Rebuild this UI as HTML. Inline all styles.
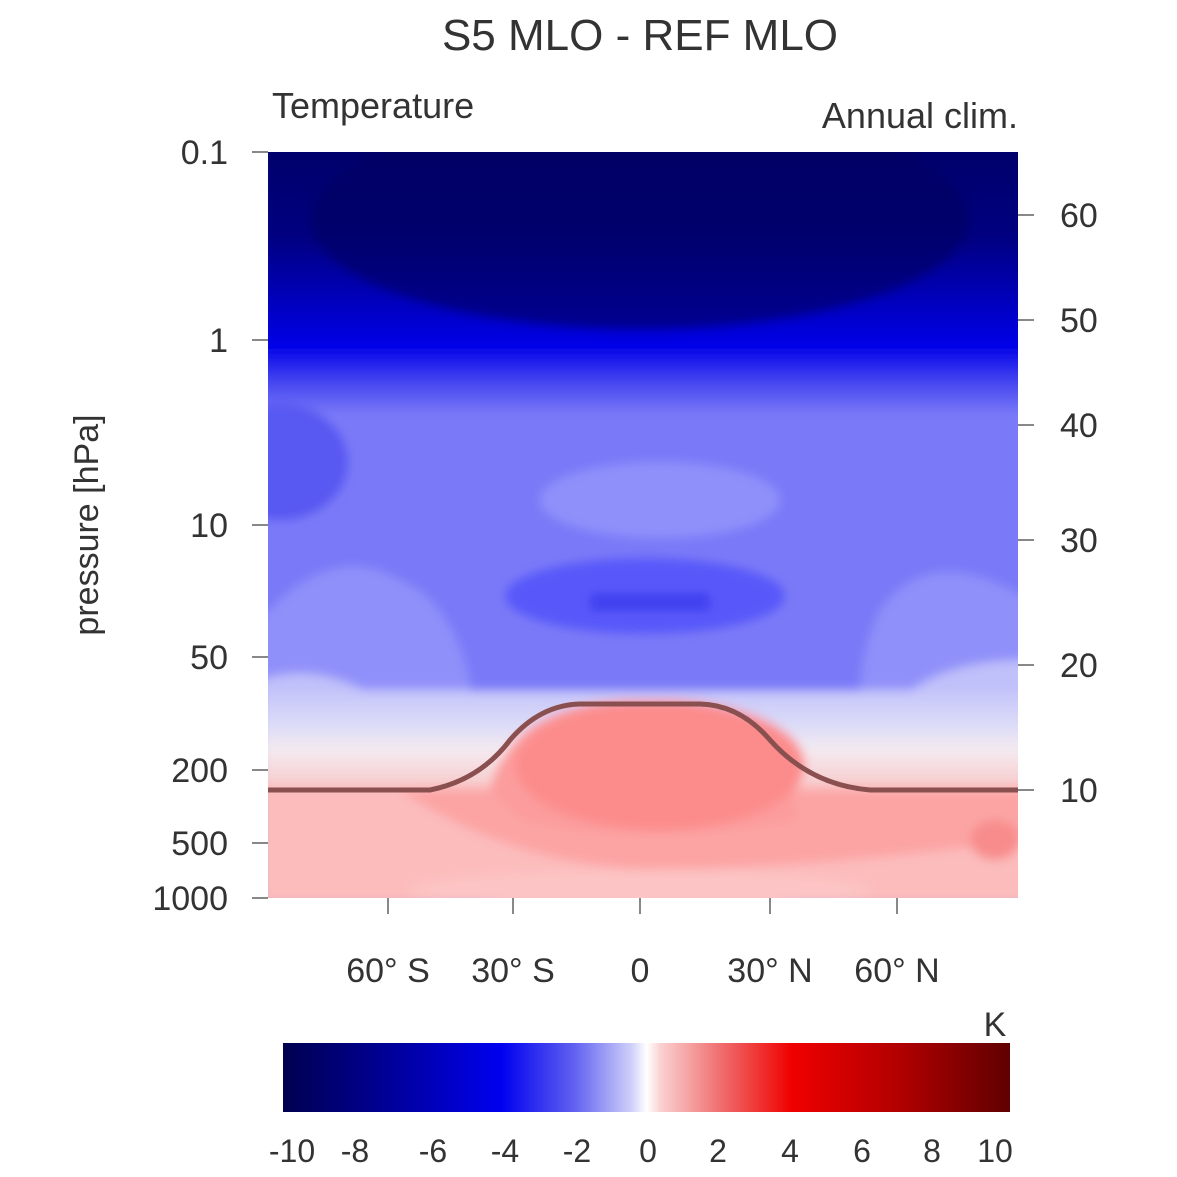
<!DOCTYPE html>
<html><head><style>
html,body{margin:0;padding:0;background:#fff;}
svg{display:block;}
text{font-family:"Liberation Sans",sans-serif;fill:#333;}
</style></head><body>
<svg width="1177" height="1177" viewBox="0 0 1177 1177">
<defs>
<filter id="b" x="-10%" y="-10%" width="120%" height="120%"><feGaussianBlur stdDeviation="5"/></filter>
<clipPath id="c"><rect x="268" y="152" width="750" height="746"/></clipPath>
<linearGradient id="top" x1="0" y1="0" x2="0" y2="1">
<stop offset="0" stop-color="#000068"/>
<stop offset="0.35" stop-color="#000080"/>
<stop offset="0.6" stop-color="#0000c0"/>
<stop offset="0.75" stop-color="#0000e8"/>
<stop offset="0.87" stop-color="#4040f0"/>
<stop offset="1" stop-color="#7a7af8"/>
</linearGradient>
<linearGradient id="trans" x1="0" y1="0" x2="0" y2="1">
<stop offset="0" stop-color="#c4c4fa"/>
<stop offset="0.35" stop-color="#dcdcf8"/>
<stop offset="0.6" stop-color="#f4eaf0"/>
<stop offset="1" stop-color="#f8c8c8"/>
</linearGradient>
<linearGradient id="cb" x1="0" y1="0" x2="1" y2="0">
<stop offset="0" stop-color="#000050"/>
<stop offset="0.15" stop-color="#00009a"/>
<stop offset="0.3" stop-color="#0000f0"/>
<stop offset="0.4" stop-color="#6060f0"/>
<stop offset="0.48" stop-color="#d0d0fa"/>
<stop offset="0.5" stop-color="#ffffff"/>
<stop offset="0.52" stop-color="#fad0d0"/>
<stop offset="0.6" stop-color="#f07070"/>
<stop offset="0.7" stop-color="#f00000"/>
<stop offset="0.85" stop-color="#b00000"/>
<stop offset="1" stop-color="#600000"/>
</linearGradient>
</defs>
<text x="640" y="50" font-size="44" text-anchor="middle">S5 MLO - REF MLO</text>
<text x="272" y="118" font-size="36">Temperature</text>
<text x="1018" y="128" font-size="36" text-anchor="end">Annual clim.</text>

<g clip-path="url(#c)">
<rect x="268" y="152" width="750" height="746" fill="#7a7af8"/>
<g filter="url(#b)">
<rect x="260" y="140" width="770" height="275" fill="url(#top)"/>
<ellipse cx="640" cy="220" rx="330" ry="110" fill="#000060" opacity="0.6"/>
<ellipse cx="280" cy="462" rx="68" ry="58" fill="#5858f2"/>
<ellipse cx="660" cy="500" rx="120" ry="38" fill="#9090fb"/>
<path d="M260 620 Q330 540 400 580 Q450 600 470 680 L470 700 L260 700Z" fill="#9090fa"/>
<path d="M1030 600 Q930 540 880 610 Q860 650 860 700 L1030 700Z" fill="#9090fa"/>
<path d="M260 680 Q320 660 380 700 L430 760 L260 760Z" fill="#c0c0fa"/>
<path d="M1030 660 Q940 660 900 700 L860 760 L1030 760Z" fill="#c0c0fa"/>
<ellipse cx="645" cy="596" rx="140" ry="38" fill="#5858fa"/>
<rect x="590" y="593" width="120" height="18" fill="#4040f0"/>
<rect x="260" y="690" width="770" height="100" fill="url(#trans)"/>
<rect x="260" y="785" width="770" height="120" fill="#fcbcbc"/>
<path d="M400 790 Q500 860 640 870 Q800 870 1030 840 L1030 790Z" fill="#fca4a4"/>
<path d="M490 790 Q510 700 640 700 Q770 700 790 790 L800 820 Q640 850 520 820Z" fill="#fc9c9c"/>
<ellipse cx="660" cy="765" rx="145" ry="65" fill="#fc8c8c"/>
<ellipse cx="995" cy="840" rx="25" ry="20" fill="#f88c8c"/>
<ellipse cx="640" cy="890" rx="230" ry="20" fill="#fcc4c4"/>
</g>
<path d="M268 790 L430 790 Q480 780 510 740 Q540 705 580 704 L700 704 Q740 705 770 740 Q810 785 870 790 L1018 790" fill="none" stroke="#8a5050" stroke-width="5"/>
</g>

<g stroke="#888" stroke-width="2">
<line x1="252" y1="152" x2="268" y2="152"/><line x1="252" y1="340" x2="268" y2="340"/>
<line x1="252" y1="525" x2="268" y2="525"/><line x1="252" y1="657" x2="268" y2="657"/>
<line x1="252" y1="770" x2="268" y2="770"/><line x1="252" y1="843" x2="268" y2="843"/>
<line x1="252" y1="898" x2="268" y2="898"/>
<line x1="1018" y1="215" x2="1034" y2="215"/><line x1="1018" y1="320" x2="1034" y2="320"/>
<line x1="1018" y1="425" x2="1034" y2="425"/><line x1="1018" y1="540" x2="1034" y2="540"/>
<line x1="1018" y1="665" x2="1034" y2="665"/><line x1="1018" y1="790" x2="1034" y2="790"/>
<line x1="388" y1="898" x2="388" y2="914"/><line x1="513" y1="898" x2="513" y2="914"/>
<line x1="640" y1="898" x2="640" y2="914"/><line x1="770" y1="898" x2="770" y2="914"/>
<line x1="897" y1="898" x2="897" y2="914"/>
</g>
<g font-size="34" text-anchor="end">
<text x="228" y="164">0.1</text><text x="228" y="352">1</text><text x="228" y="537">10</text>
<text x="228" y="669">50</text><text x="228" y="782">200</text><text x="228" y="855">500</text>
<text x="228" y="910">1000</text>
</g>
<g font-size="34">
<text x="1060" y="227">60</text><text x="1060" y="332">50</text><text x="1060" y="437">40</text>
<text x="1060" y="552">30</text><text x="1060" y="677">20</text><text x="1060" y="802">10</text>
</g>
<text transform="translate(98,525) rotate(-90)" font-size="34" text-anchor="middle">pressure [hPa]</text>
<g font-size="34" text-anchor="middle">
<text x="388" y="982">60° S</text><text x="513" y="982">30° S</text><text x="640" y="982">0</text>
<text x="770" y="982">30° N</text><text x="897" y="982">60° N</text>
</g>
<text x="995" y="1036" font-size="34" text-anchor="middle">K</text>
<rect x="283" y="1043" width="727" height="69" fill="url(#cb)"/>
<g font-size="32" text-anchor="middle">
<text x="292" y="1162">-10</text><text x="355" y="1162">-8</text><text x="433" y="1162">-6</text>
<text x="505" y="1162">-4</text><text x="577" y="1162">-2</text><text x="648" y="1162">0</text>
<text x="718" y="1162">2</text><text x="790" y="1162">4</text><text x="862" y="1162">6</text>
<text x="932" y="1162">8</text><text x="995" y="1162">10</text>
</g>
</svg>
</body></html>
